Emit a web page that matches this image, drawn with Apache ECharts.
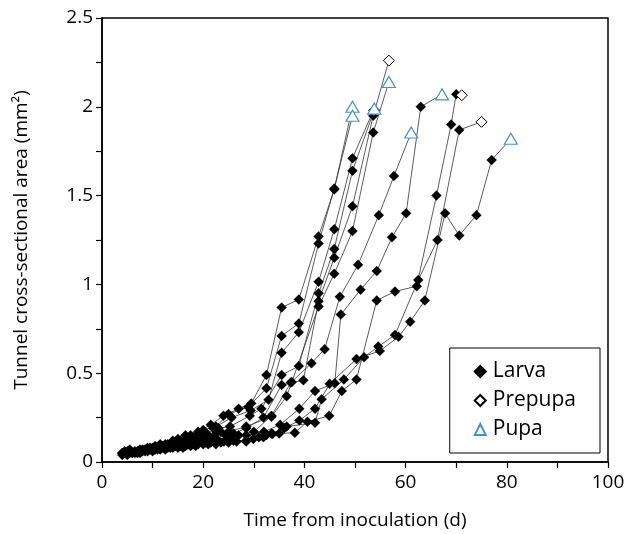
<!DOCTYPE html>
<html>
<head>
<meta charset="utf-8">
<script src="https://cdn.jsdelivr.net/npm/echarts@6/dist/echarts.min.js"></script>
<style>
html,body{margin:0;padding:0;background:#fff;}
#chart{width:627px;height:534px;}
</style>
</head>
<body>
<div id="chart"></div>
<script>
// Individual larval tracks: [day, tunnel cross-sectional area (mm2)]; last point is the final stage
const trackA = [[4,0.05],[6.5,0.06],[9,0.08],[11.5,0.10],[14,0.12],[16.5,0.15],[19,0.17],[21.5,0.21],[24,0.26],[27,0.30],[29.5,0.33],[32.5,0.49],[35.5,0.87],[38.9,0.915],[42.8,1.27],[45.9,1.535],[49.5,2.00]];
const trackB = [[5,0.06],[7.5,0.07],[10,0.08],[12.5,0.10],[15,0.13],[17.5,0.15],[20,0.18],[22.5,0.20],[25,0.27],[28.9,0.31],[32.5,0.415],[35.5,0.71],[38.9,0.78],[42.8,1.23],[45.9,1.54],[49.5,1.95]];
const trackC = [[4.5,0.05],[7,0.06],[9.5,0.08],[12,0.09],[14.5,0.11],[17,0.13],[19.5,0.16],[22,0.19],[25.6,0.25],[29.4,0.29],[32.9,0.35],[35.5,0.615],[38.9,0.73],[42.8,1.015],[45.9,1.31],[49.5,1.71],[53.8,1.99]];
const trackD = [[5.5,0.07],[8,0.07],[10.5,0.09],[13,0.10],[15.5,0.12],[18,0.14],[20.5,0.16],[23,0.19],[25.3,0.20],[29.2,0.26],[31.5,0.30],[35.5,0.49],[38.9,0.54],[42.8,0.95],[45.9,1.20],[49.5,1.64],[53.8,1.98]];
const trackE = [[4,0.05],[6,0.05],[8.5,0.07],[11,0.08],[13.5,0.10],[16,0.11],[18.5,0.13],[21,0.15],[23.5,0.17],[26,0.16],[28.5,0.19],[31.9,0.25],[35.5,0.434],[39.8,0.46],[42.8,0.905],[45.9,1.15],[49.5,1.44],[53.6,1.95],[56.7,2.26]];
const trackF = [[5,0.05],[7.5,0.06],[10,0.07],[12.5,0.09],[15,0.10],[17.5,0.12],[20,0.14],[22.5,0.16],[25,0.17],[28.5,0.20],[33.5,0.255],[36.5,0.37],[37.5,0.45],[42.8,0.875],[45.9,1.06],[49.5,1.30],[53.6,1.855],[56.7,2.14]];
const trackG = [[4.5,0.06],[7,0.05],[9.5,0.07],[12,0.08],[14.5,0.09],[17,0.10],[19.5,0.12],[22,0.13],[24.5,0.15],[27,0.15],[30,0.17],[33.5,0.26],[37.3,0.447],[41.4,0.556],[44,0.635],[47,0.93],[50.6,1.11],[54.7,1.39],[57.7,1.61],[61.1,1.855]];
const trackH = [[5.5,0.05],[8,0.06],[10.5,0.07],[13,0.08],[15.5,0.09],[18,0.10],[20.5,0.11],[23,0.12],[25.5,0.13],[28.5,0.15],[32,0.17],[35.2,0.21],[39,0.30],[42.1,0.40],[46,0.443],[47.2,0.83],[51.1,0.97],[54.3,1.075],[57.3,1.265],[60.1,1.40],[63,2.00],[67.2,2.07]];
const trackI = [[4,0.04],[6.5,0.05],[9,0.06],[11.5,0.07],[14,0.08],[16.5,0.09],[19,0.10],[21.5,0.11],[24.1,0.115],[26.6,0.115],[29.9,0.13],[32.5,0.152],[35,0.16],[38.1,0.165],[40.6,0.227],[44.9,0.26],[47.4,0.40],[50.3,0.465],[54.3,0.91],[57.9,0.96],[62.2,0.99],[66.1,1.50],[69,1.90],[70,2.07],[71.1,2.065]];
const trackJ = [[5,0.04],[7.5,0.05],[10,0.06],[12.5,0.07],[15,0.08],[17.5,0.09],[20,0.10],[22.5,0.10],[25,0.11],[28.5,0.115],[31.9,0.14],[33.7,0.158],[36.5,0.20],[42.1,0.221],[43.4,0.353],[47.8,0.465],[51.8,0.59],[54.6,0.65],[57.9,0.715],[62.5,1.025],[66.3,1.25],[70.6,1.87],[75,1.915]];
const trackK = [[6,0.05],[8.5,0.06],[11,0.07],[13.5,0.08],[16,0.08],[18.5,0.09],[21,0.10],[23.5,0.11],[26,0.12],[28.5,0.12],[31,0.14],[33.5,0.16],[36,0.19],[39,0.233],[42.1,0.30],[45,0.44],[50.3,0.58],[54.9,0.625],[58.6,0.705],[60.9,0.79],[63.8,0.91],[67.8,1.40],[70.6,1.275],[74,1.39],[77,1.70],[80.8,1.82]];

const tracks = [trackA, trackB, trackC, trackD, trackE, trackF, trackG, trackH, trackI, trackJ, trackK];
// stage reached at the last observation of each track
const endStages = ['Pupa','Pupa','Pupa','Prepupa','Prepupa','Pupa','Pupa','Pupa','Prepupa','Prepupa','Pupa'];

const xTicks = [0, 20, 40, 60, 80, 100];
const yTicks = [0, 0.5, 1, 1.5, 2, 2.5];

const larvaPts = [];
const prepupaPts = [];
const pupaPts = [];
tracks.forEach((t, i) => {
  t.slice(0, -1).forEach(p => larvaPts.push(p));
  const last = t[t.length - 1];
  (endStages[i] === 'Prepupa' ? prepupaPts : pupaPts).push(last);
});

const FONT = '"Open Sans", "Liberation Sans", sans-serif';

const series = tracks.map((t, i) => ({
  name: 'track' + i,
  type: 'line',
  data: t,
  symbol: 'none',
  silent: true,
  z: 2,
  lineStyle: { color: '#333', width: 0.8 }
}));
series.push({
  name: 'Larva', type: 'scatter', data: larvaPts, symbol: 'diamond', symbolSize: 10, z: 3,
  itemStyle: { color: '#000', borderColor: '#000', borderWidth: 0.3, opacity: 1 }
});
series.push({
  name: 'Prepupa', type: 'scatter', data: prepupaPts, symbol: 'diamond', symbolSize: 11, z: 4,
  itemStyle: { color: '#fff', borderColor: '#000', borderWidth: 1, opacity: 1 }
});
series.push({
  name: 'Pupa', type: 'scatter', data: pupaPts, symbol: 'triangle', symbolSize: [13, 11], z: 5,
  itemStyle: { color: '#fff', borderColor: '#4a90d0', borderWidth: 1.2, opacity: 1 }
});

const chart = echarts.init(document.getElementById('chart'), null, { renderer: 'canvas' });
chart.setOption({
  animation: false,
  backgroundColor: '#fff',
  grid: {
    left: 102, right: 19, top: 18, bottom: 72,
    outerBoundsMode: 'none', containLabel: false,
    show: true, borderColor: '#000', borderWidth: 1.5, backgroundColor: 'transparent'
  },
  legend: {
    data: [
      { name: 'Larva', icon: 'diamond' },
      { name: 'Prepupa', icon: 'diamond' },
      { name: 'Pupa', icon: 'triangle' }
    ],
    orient: 'vertical',
    right: 27,
    top: 348,
    padding: [13, 24, 13, 24],
    itemGap: 8,
    itemWidth: 11,
    itemHeight: 11,
    borderColor: '#000',
    borderWidth: 1,
    backgroundColor: '#fff',
    textStyle: { fontFamily: FONT, fontSize: 21, color: '#000', padding: [0, 0, 0, 2] }
  },
  xAxis: {
    type: 'value', min: 0, max: 100, interval: 10,
    name: 'Time from inoculation (d)', nameLocation: 'middle', nameGap: 49,
    nameTextStyle: { fontFamily: FONT, fontSize: 19, color: '#000' },
    axisLine: { show: true, lineStyle: { color: '#000', width: 1.5 } },
    axisTick: { show: true, inside: false, length: 6, lineStyle: { color: '#000', width: 1.2 } },
    axisLabel: {
      fontFamily: FONT, fontSize: 19, color: '#000', margin: 11,
      formatter: v => (xTicks.indexOf(v) >= 0 ? String(v) : '')
    },
    splitLine: { show: false }
  },
  yAxis: {
    type: 'value', min: 0, max: 2.5, interval: 0.25,
    name: 'Tunnel cross-sectional area (mm²)', nameLocation: 'middle', nameGap: 71, nameRotate: 90,
    nameTextStyle: { fontFamily: FONT, fontSize: 19, color: '#000' },
    axisLine: { show: true, lineStyle: { color: '#000', width: 1.5 } },
    axisTick: { show: true, inside: false, length: 6, lineStyle: { color: '#000', width: 1.2 } },
    axisLabel: {
      fontFamily: FONT, fontSize: 19, color: '#000', margin: 9,
      formatter: v => {
        const m = yTicks.find(t => Math.abs(t - v) < 1e-6);
        return m === undefined ? '' : String(m);
      }
    },
    splitLine: { show: false }
  },
  series: series
});
</script>
</body>
</html>
